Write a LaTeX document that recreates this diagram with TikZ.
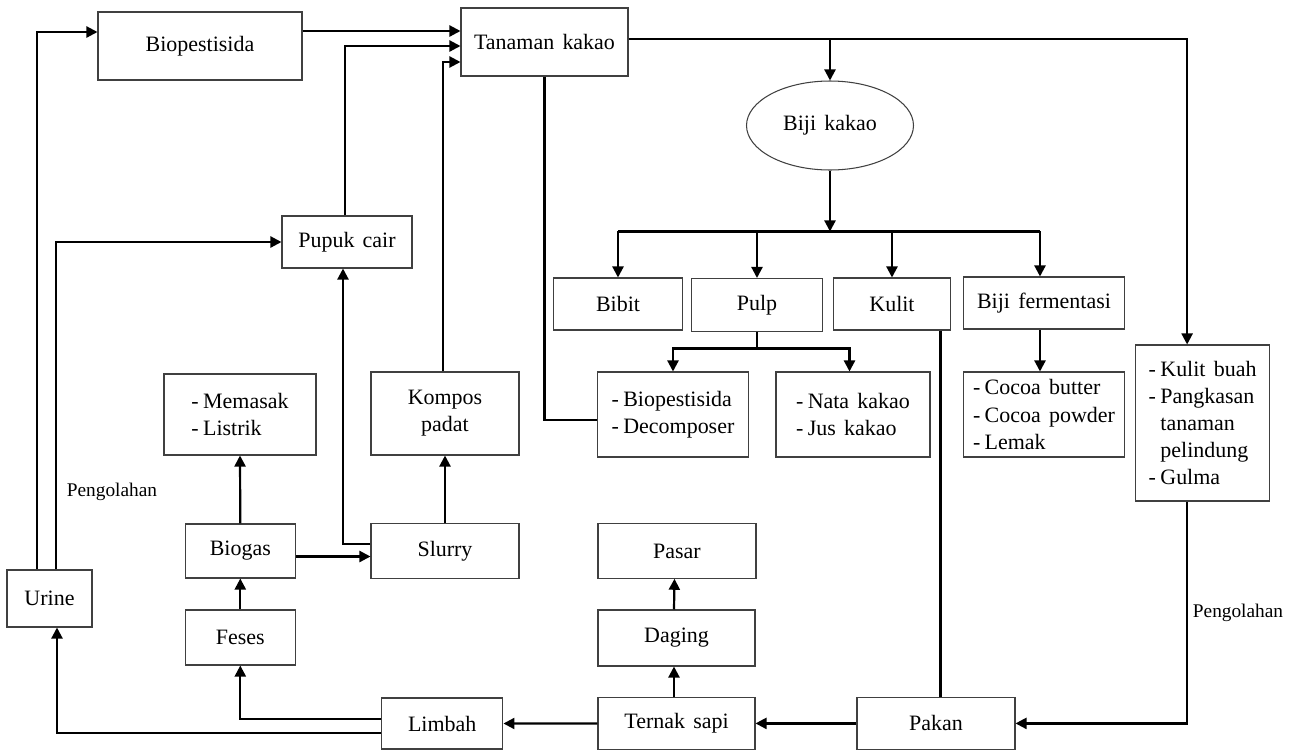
\documentclass[tikz,border=0pt]{standalone}
\usepackage{fontspec}
\setmainfont{Liberation Serif}[WordSpace=1.5]
\usepackage{tikz}
\usetikzlibrary{shapes.geometric,arrows.meta}
\newcommand{\itemdash}{-\hspace{0.2em}}
\newcommand{\itemgap}{\hphantom{-\hspace{0.2em}}}
\tikzstyle{block} = [draw=black!75, rectangle, line width=0.6pt, inner sep=2pt,
text centered, font=\fontsize{12.5}{15.5}\selectfont]
\tikzstyle{listblock} = [block, align=left]
\tikzstyle{round} = [draw=black!75, ellipse, line width=0.6pt, inner sep=0pt,
minimum width=3.34cm, minimum height=1.78cm, font=\fontsize{12.5}{15}\selectfont]
\tikzstyle{note} = [font=\fontsize{11}{13}\selectfont, inner sep=0pt]
\tikzstyle{flowLine} = [line width=1.25pt]
\tikzstyle{flowArrow} = [flowLine, -{Triangle[length=0.22cm,width=0.22cm]}]

\begin{document}
\begin{tikzpicture}[x=0.02cm, y=-0.02cm]
		\useasboundingbox (0,0) rectangle (1295,751);
		%blocks
		\node[block, minimum width=4.08cm, minimum height=1.36cm] (biopest) at (200,46) {Biopestisida};
		\node[block, minimum width=3.34cm, minimum height=1.36cm] (tanaman) at (544.5,42) {Tanaman kakao};
		\node[round] (bijikakao) at (830,125.5) {Biji kakao};
		\node[block, minimum width=2.6cm, minimum height=1.04cm] (pupuk) at (347,242) {Pupuk cair};
		\node[block, minimum width=2.58cm, minimum height=1.04cm] (bibit) at (618,304) {Bibit};
		\node[block, minimum width=2.61cm, minimum height=1.06cm] (pulp) at (757,305) {Pulp};
		\node[block, minimum width=2.35cm, minimum height=1.04cm] (kulit) at (892,304) {Kulit};
		\node[block, minimum width=3.23cm, minimum height=1.04cm] (fermentasi) at (1044,303) {Biji fermentasi};
		\node[listblock, minimum width=3.01cm, minimum height=1.7cm] (decomp) at (673,414.5)
			{\itemdash Biopestisida\\ \itemdash Decomposer};
		\node[listblock, minimum width=3.08cm, minimum height=1.7cm] (nata) at (853,414.5)
			{\itemdash Nata kakao\\ \itemdash Jus kakao};
		\node[listblock, minimum width=3.22cm, minimum height=1.7cm] (cocoa) at (1044,414.5)
			{\itemdash Cocoa butter\\ \itemdash Cocoa powder\\ \itemdash Lemak};
		\node[listblock, minimum width=2.67cm, minimum height=3.12cm] (kulitbuah) at (1202.6,423)
			{\itemdash Kulit buah\\ \itemdash Pangkasan\\ \itemgap tanaman\\ \itemgap pelindung\\ \itemdash Gulma};
		\node[listblock, minimum width=3.04cm, minimum height=1.62cm] (memasak) at (240,414.5)
			{\itemdash Memasak\\ \itemdash Listrik};
		\node[block, align=center, minimum width=2.96cm, minimum height=1.66cm] (kompos) at (445,413.5)
			{Kompos\\ padat};
		\node[block, minimum width=2.21cm, minimum height=1.08cm] (biogas) at (240.3,551) {Biogas};
		\node[block, minimum width=2.96cm, minimum height=1.09cm] (slurry) at (445,551) {Slurry};
		\node[block, minimum width=2.21cm, minimum height=1.1cm] (feses) at (240.3,637.5) {Feses};
		\node[block, minimum width=1.7cm, minimum height=1.14cm] (urine) at (49.5,598.5) {Urine};
		\node[block, minimum width=3.16cm, minimum height=1.09cm] (pasar) at (677,551) {Pasar};
		\node[block, minimum width=3.14cm, minimum height=1.12cm] (daging) at (676.5,638) {Daging};
		\node[block, minimum width=3.14cm, minimum height=1.03cm] (ternak) at (676.5,723.4) {Ternak sapi};
		\node[block, minimum width=2.43cm, minimum height=1.02cm] (limbah) at (442.2,723.5) {Limbah};
		\node[block, minimum width=3.16cm, minimum height=1.03cm] (pakan) at (936,723.4) {Pakan};
		\node[note] (olah1) at (112,492) {Pengolahan};
		\node[note] (olah2) at (1238,613) {Pengolahan};

		%helper points
		\coordinate (tin1) at ([yshift=0.22cm]tanaman.west);
		\coordinate (tin2) at ([yshift=-0.08cm]tanaman.west);
		\coordinate (tin3) at ([yshift=-0.4cm]tanaman.west);
		\coordinate (tout) at ([yshift=0.06cm]tanaman.east);
		\coordinate (br) at ([yshift=0.92cm]bibit.north);
		\coordinate (pb) at ([yshift=-0.33cm]pulp.south);
		\coordinate (kp) at ([xshift=0.97cm]kulit.south);

		%arrows
		\draw[flowArrow]([xshift=-0.25cm]urine.north) |- ([yshift=0.28cm]biopest.west);
		\draw[flowArrow]([xshift=0.13cm]urine.north) |- (pupuk.west);
		\draw[flowArrow](biopest.east |- tin1) -- (tin1);
		\draw[flowArrow]([xshift=-0.04cm]pupuk.north) |- (tin2);
		\draw[flowArrow]([xshift=-0.04cm]kompos.north) |- (tin3);
		\draw[flowArrow]([yshift=0.14cm]slurry.west) -| ([xshift=-0.08cm]pupuk.south);
		\draw[flowArrow](slurry.north) -- (kompos.south);
		\draw[flowArrow]([yshift=-0.11cm]biogas.east) -- ([yshift=-0.11cm]slurry.west);
		\draw[flowArrow](biogas.north) -- (memasak.south);
		\draw[flowArrow](feses.north) -- (biogas.south);
		\draw[flowArrow]([yshift=0.09cm]limbah.west) -| (feses.south);
		\draw[flowArrow]([yshift=-0.19cm]limbah.west) -| ([xshift=0.15cm]urine.south);
		\draw[flowArrow](ternak.west) -- (limbah.east);
		\draw[flowArrow](pakan.west) -- (ternak.east);
		\draw[flowArrow]([xshift=-0.05cm]ternak.north) -- ([xshift=-0.05cm]daging.south);
		\draw[flowArrow]([xshift=-0.05cm]daging.north) -- ([xshift=-0.05cm]pasar.south);
		\draw[flowArrow]([xshift=-0.31cm]kulitbuah.south) |- (pakan.east);
		\draw[flowLine](kp) -- (kp |- pakan.north);
		\draw[flowLine](tanaman.south) |- ([yshift=-0.11cm]decomp.west);
		\draw[flowArrow](tout) -| ([xshift=-0.31cm]kulitbuah.north);
		\draw[flowArrow](tout -| bijikakao.north) -- (bijikakao.north);
		\draw[flowArrow](bijikakao.south) -- (bijikakao.south |- br);
		\draw[flowLine](br -| bibit.north) -- ([xshift=-0.08cm]br -| fermentasi.north);
		\foreach \n in {bibit,pulp,kulit}
			\draw[flowArrow](br -| \n.north) -- (\n.north);
		\draw[flowArrow]([xshift=-0.08cm]br -| fermentasi.north) -- ([xshift=-0.08cm]fermentasi.north);
		\draw[flowLine](pulp.south) -- (pb);
		\draw[flowArrow](pb) -| (decomp.north);
		\draw[flowArrow](pb) -| ([xshift=-0.07cm]nata.north);
		\draw[flowArrow]([xshift=-0.08cm]fermentasi.south) -- ([xshift=-0.08cm]cocoa.north);
	\end{tikzpicture}
\end{document}
